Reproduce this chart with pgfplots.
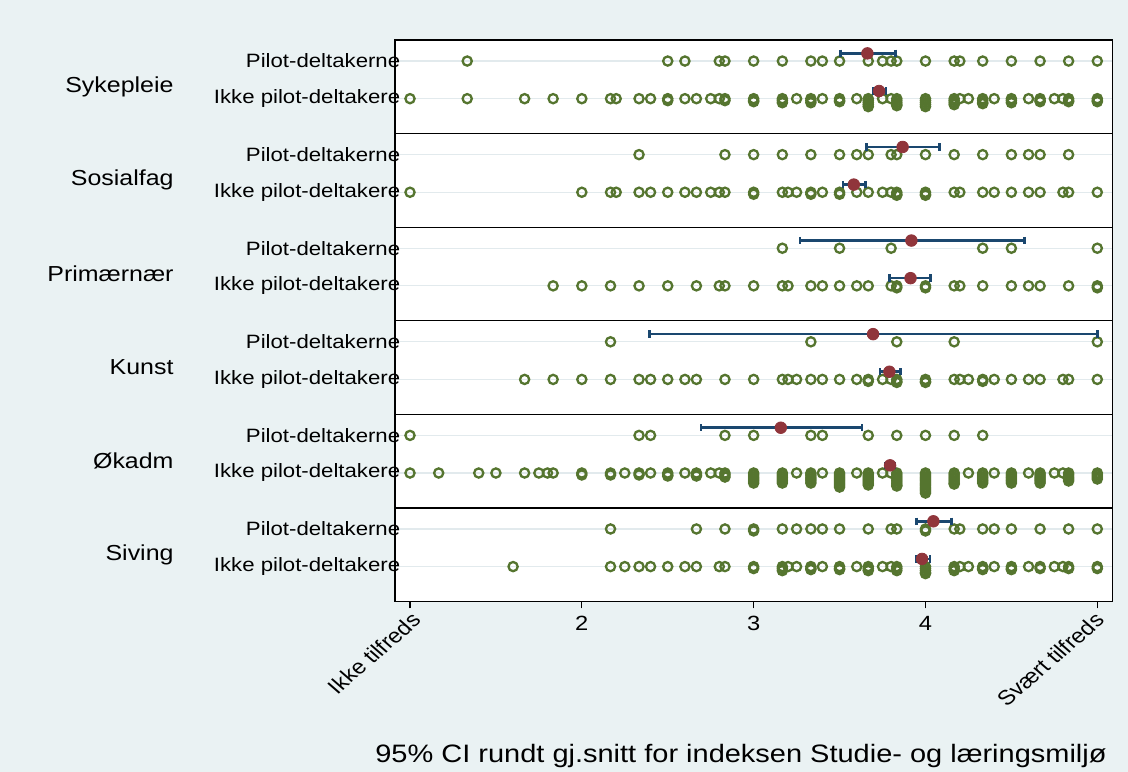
\documentclass[border=0pt]{standalone}
\usepackage{pgfplots}
\pgfplotsset{compat=1.18}
\usepackage{fontspec}
\setmainfont{Liberation Sans}
\definecolor{bgc}{RGB}{234,242,243}
\definecolor{gridc}{RGB}{226,234,237}
\definecolor{ringc}{RGB}{85,117,47}
\definecolor{meanc}{RGB}{144,53,59}
\definecolor{cic}{RGB}{26,71,111}
\newcommand{\rowfont}{\fontsize{9.65bp}{11bp}\selectfont}
\newcommand{\panelfont}{\fontsize{10.85bp}{13bp}\selectfont}
\newcommand{\tickfont}{\fontsize{10.3bp}{12bp}\selectfont}
\begin{document}
\begin{tikzpicture}
\useasboundingbox (0,0) rectangle (564bp,386bp);
\fill[bgc] (0,0) rectangle (564bp,386bp);
\begin{axis}[
  at={(197.5bp,85.25bp)}, anchor=south west,
  scale only axis, width=358.65bp, height=280.75bp,
  xmin=0.9127, xmax=5.0873, ymin=0, ymax=6,
  axis line style={black, line width=0.65bp},
  axis background/.style={fill=white},
  clip=false,
  tick pos=left, tick align=outside,
  major tick length=3.5bp,
  xtick={1,2,3,4,5}, xticklabels={,2,3,4,},
  x tick style={black, line width=0.6bp},
  xticklabel style={font=\tickfont, xscale=1.15, inner sep=0pt, anchor=north, yshift=-3.5bp},
  ytick={0.373,0.775,1.373,1.775,2.373,2.775,3.373,3.775,4.373,4.775,5.373,5.775},
  yticklabels={Ikke pilot-deltakere,Pilot-deltakerne,Ikke pilot-deltakere,Pilot-deltakerne,Ikke pilot-deltakere,Pilot-deltakerne,Ikke pilot-deltakere,Pilot-deltakerne,Ikke pilot-deltakere,Pilot-deltakerne,Ikke pilot-deltakere,Pilot-deltakerne},
  y tick style={draw=none},
  yticklabel style={font=\rowfont, xscale=1.15, anchor=east, inner sep=0pt, xshift=5.5bp},
  ymajorgrids, major grid style={gridc, line width=0.6bp},
  extra y ticks={1,2,3,4,5}, extra y tick labels={},
  extra y tick style={major grid style={black, line width=0.65bp}},
  ring/.style={only marks, mark=o, mark size=2.3bp, mark options={draw=ringc, line width=1.15bp}},
]
% ---------- Sykepleie ----------
\addplot[ring] coordinates {(1.333,5.775)(2.5,5.775)(2.6,5.775)(2.8,5.775)(2.833,5.775)(3,5.775)(3.167,5.775)(3.333,5.775)(3.4,5.775)(3.5,5.775)(3.667,5.775)(3.75,5.775)(3.8,5.775)(3.833,5.775)(4,5.775)(4.167,5.775)(4.2,5.775)(4.333,5.775)(4.5,5.775)(4.667,5.775)(4.833,5.775)(5,5.775)};
\addplot[ring] coordinates {(1,5.373)(1.333,5.373)(1.667,5.373)(1.833,5.373)(2,5.373)(2.167,5.373)(2.2,5.373)(2.333,5.373)(2.4,5.373)(2.5,5.373)(2.6,5.373)(2.667,5.373)(2.75,5.373)(2.8,5.373)(2.833,5.373)(3,5.373)(3.167,5.373)(3.25,5.373)(3.333,5.373)(3.4,5.373)(3.5,5.373)(3.6,5.373)(3.667,5.373)(3.75,5.373)(3.8,5.373)(3.833,5.373)(4,5.373)(4.167,5.373)(4.2,5.373)(4.25,5.373)(4.333,5.373)(4.4,5.373)(4.5,5.373)(4.6,5.373)(4.667,5.373)(4.75,5.373)(4.8,5.373)(4.833,5.373)(5,5.373)};
\addplot[ring] coordinates {(2.5,5.352)(2.833,5.352)(3,5.352)(3,5.341)(3.167,5.352)(3.167,5.330)(3.333,5.352)(3.333,5.330)(3.5,5.352)(3.5,5.341)(3.667,5.352)(3.667,5.330)(3.667,5.309)(3.667,5.288)(3.833,5.352)(3.833,5.330)(3.833,5.309)(3.833,5.298)(4,5.352)(4,5.330)(4,5.309)(4,5.288)(4.167,5.352)(4.167,5.330)(4.167,5.309)(4.333,5.352)(4.333,5.330)(4.333,5.320)(4.5,5.352)(4.5,5.330)(4.667,5.352)(4.667,5.341)(4.833,5.352)(4.833,5.341)(5,5.352)(5,5.341)};
% ---------- Sosialfag ----------
\addplot[ring] coordinates {(2.333,4.775)(2.833,4.775)(3,4.775)(3.167,4.775)(3.333,4.775)(3.5,4.775)(3.6,4.775)(3.667,4.775)(3.8,4.775)(3.833,4.775)(4,4.775)(4.167,4.775)(4.333,4.775)(4.5,4.775)(4.6,4.775)(4.667,4.775)(4.833,4.775)};
\addplot[ring] coordinates {(1,4.373)(2,4.373)(2.167,4.373)(2.2,4.373)(2.333,4.373)(2.4,4.373)(2.5,4.373)(2.6,4.373)(2.667,4.373)(2.75,4.373)(2.8,4.373)(2.833,4.373)(3,4.373)(3.167,4.373)(3.2,4.373)(3.25,4.373)(3.333,4.373)(3.4,4.373)(3.5,4.373)(3.6,4.373)(3.667,4.373)(3.75,4.373)(3.8,4.373)(3.833,4.373)(4,4.373)(4.167,4.373)(4.2,4.373)(4.333,4.373)(4.4,4.373)(4.5,4.373)(4.6,4.373)(4.667,4.373)(4.8,4.373)(4.833,4.373)(5,4.373)};
\addplot[ring] coordinates {(3,4.352)(3.333,4.352)(3.5,4.352)(3.833,4.352)(3.833,4.341)(4,4.352)(4,4.341)};
% ---------- Primaernaer ----------
\addplot[ring] coordinates {(3.167,3.775)(3.5,3.775)(3.8,3.775)(4.333,3.775)(4.5,3.775)(5,3.775)};
\addplot[ring] coordinates {(1.833,3.373)(2,3.373)(2.167,3.373)(2.333,3.373)(2.5,3.373)(2.667,3.373)(2.8,3.373)(2.833,3.373)(3,3.373)(3.167,3.373)(3.2,3.373)(3.333,3.373)(3.4,3.373)(3.5,3.373)(3.6,3.373)(3.667,3.373)(3.8,3.373)(3.833,3.373)(4,3.373)(4.167,3.373)(4.2,3.373)(4.333,3.373)(4.5,3.373)(4.6,3.373)(4.667,3.373)(4.833,3.373)(5,3.373)};
\addplot[ring] coordinates {(3.833,3.352)(4,3.352)(5,3.352)};
% ---------- Kunst ----------
\addplot[ring] coordinates {(2.167,2.775)(3.333,2.775)(3.833,2.775)(4.167,2.775)(5,2.775)};
\addplot[ring] coordinates {(1.667,2.373)(1.833,2.373)(2,2.373)(2.167,2.373)(2.333,2.373)(2.4,2.373)(2.5,2.373)(2.6,2.373)(2.667,2.373)(2.833,2.373)(3,2.373)(3.167,2.373)(3.2,2.373)(3.25,2.373)(3.333,2.373)(3.4,2.373)(3.5,2.373)(3.6,2.373)(3.667,2.373)(3.75,2.373)(3.8,2.373)(3.833,2.373)(4,2.373)(4.167,2.373)(4.2,2.373)(4.25,2.373)(4.333,2.373)(4.4,2.373)(4.5,2.373)(4.6,2.373)(4.667,2.373)(4.8,2.373)(4.833,2.373)(5,2.373)};
\addplot[ring] coordinates {(3.667,2.352)(3.833,2.352)(3.833,2.341)(4,2.352)(4,2.341)(4.333,2.352)};
% ---------- Okadm ----------
\addplot[ring] coordinates {(1,1.775)(2.333,1.775)(2.4,1.775)(2.833,1.775)(3,1.775)(3.333,1.775)(3.4,1.775)(3.667,1.775)(3.833,1.775)(4,1.775)(4.167,1.775)(4.333,1.775)};
\addplot[ring] coordinates {(1,1.373)(1.167,1.373)(1.4,1.373)(1.5,1.373)(1.667,1.373)(1.75,1.373)(1.8,1.373)(1.833,1.373)(2,1.373)(2.167,1.373)(2.25,1.373)(2.333,1.373)(2.4,1.373)(2.5,1.373)(2.6,1.373)(2.667,1.373)(2.75,1.373)(2.8,1.373)(2.833,1.373)(3,1.373)(3.167,1.373)(3.25,1.373)(3.333,1.373)(3.4,1.373)(3.5,1.373)(3.6,1.373)(3.667,1.373)(3.75,1.373)(3.8,1.373)(3.833,1.373)(4,1.373)(4.167,1.373)(4.25,1.373)(4.333,1.373)(4.4,1.373)(4.5,1.373)(4.6,1.373)(4.667,1.373)(4.75,1.373)(4.8,1.373)(4.833,1.373)(5,1.373)};
\addplot[ring] coordinates {(2,1.352)(2.167,1.352)(2.333,1.352)(2.5,1.352)(2.5,1.341)(2.667,1.352)(2.667,1.341)(2.833,1.352)(2.833,1.330)
(3,1.352)(3,1.330)(3,1.309)(3,1.288)(3,1.266)
(3.167,1.352)(3.167,1.330)(3.167,1.309)(3.167,1.288)(3.167,1.266)
(3.333,1.352)(3.333,1.330)(3.333,1.309)(3.333,1.288)(3.333,1.266)
(3.5,1.352)(3.5,1.330)(3.5,1.309)(3.5,1.288)(3.5,1.266)(3.5,1.245)(3.5,1.223)
(3.667,1.352)(3.667,1.330)(3.667,1.309)(3.667,1.288)(3.667,1.266)(3.667,1.245)
(3.833,1.352)(3.833,1.330)(3.833,1.309)(3.833,1.288)(3.833,1.266)(3.833,1.245)(3.833,1.234)
(4,1.352)(4,1.330)(4,1.309)(4,1.288)(4,1.266)(4,1.245)(4,1.223)(4,1.202)(4,1.181)(4,1.159)
(4.167,1.352)(4.167,1.330)(4.167,1.309)(4.167,1.288)(4.167,1.266)(4.167,1.255)
(4.333,1.352)(4.333,1.330)(4.333,1.309)(4.333,1.288)(4.333,1.266)
(4.5,1.352)(4.5,1.330)(4.5,1.309)(4.5,1.288)(4.5,1.266)
(4.667,1.352)(4.667,1.330)(4.667,1.309)(4.667,1.288)(4.667,1.266)
(4.833,1.352)(4.833,1.330)(4.833,1.309)(4.833,1.288)
(5,1.352)(5,1.330)(5,1.309)};
% ---------- Siving ----------
\addplot[ring] coordinates {(2.167,0.775)(2.667,0.775)(2.833,0.775)(3,0.775)(3.167,0.775)(3.25,0.775)(3.333,0.775)(3.4,0.775)(3.5,0.775)(3.667,0.775)(3.8,0.775)(3.833,0.775)(4,0.775)(4.167,0.775)(4.2,0.775)(4.333,0.775)(4.4,0.775)(4.5,0.775)(4.667,0.775)(4.833,0.775)(5,0.775)};
\addplot[ring] coordinates {(3,0.754)(4,0.754)};
\addplot[ring] coordinates {(1.6,0.373)(2.167,0.373)(2.25,0.373)(2.333,0.373)(2.4,0.373)(2.5,0.373)(2.6,0.373)(2.667,0.373)(2.8,0.373)(2.833,0.373)(3,0.373)(3.167,0.373)(3.2,0.373)(3.25,0.373)(3.333,0.373)(3.4,0.373)(3.5,0.373)(3.6,0.373)(3.667,0.373)(3.75,0.373)(3.8,0.373)(3.833,0.373)(4,0.373)(4.167,0.373)(4.2,0.373)(4.25,0.373)(4.333,0.373)(4.4,0.373)(4.5,0.373)(4.6,0.373)(4.667,0.373)(4.75,0.373)(4.8,0.373)(4.833,0.373)(5,0.373)};
\addplot[ring] coordinates {(3,0.352)(3.167,0.352)(3.167,0.330)(3.333,0.352)(3.333,0.341)(3.5,0.352)(3.5,0.341)(3.667,0.352)(3.667,0.330)(3.833,0.352)(3.833,0.330)(4,0.352)(4,0.330)(4,0.309)(4,0.298)(4.167,0.352)(4.167,0.330)(4.333,0.352)(4.333,0.341)(4.5,0.352)(4.5,0.341)(4.667,0.352)(4.833,0.352)(5,0.352)};
% ---------- 95% CI ----------
\addplot[cic, line width=1.3bp, mark=|, mark size=1.85bp, mark options={line width=1.3bp}, unbounded coords=jump] coordinates {
(3.507,5.857)(3.825,5.857)(nan,nan)
(3.697,5.455)(3.770,5.455)(nan,nan)
(3.655,4.857)(4.080,4.857)(nan,nan)
(3.520,4.455)(3.652,4.455)(nan,nan)
(3.270,3.857)(4.577,3.857)(nan,nan)
(3.790,3.455)(4.030,3.455)(nan,nan)
(2.393,2.857)(5.000,2.857)(nan,nan)
(3.735,2.455)(3.855,2.455)(nan,nan)
(2.694,1.857)(3.630,1.857)(nan,nan)
(3.765,1.455)(3.823,1.455)(nan,nan)
(3.946,0.857)(4.153,0.857)(nan,nan)
(3.946,0.455)(4.027,0.455)};
% ---------- means ----------
\addplot[only marks, mark=*, mark size=2.9bp, mark options={draw=meanc, fill=meanc}] coordinates {
(3.662,5.857)(3.730,5.455)(3.867,4.857)(3.583,4.455)(3.918,3.857)(3.913,3.455)(3.695,2.857)(3.790,2.455)(3.158,1.857)(3.794,1.455)(4.046,0.857)(3.980,0.455)};
% ---------- labels ----------
\node[xshift=-110.5bp, xscale=1.15, anchor=east, inner sep=0pt, font=\panelfont] at (rel axis cs:0,0.91667) {Sykepleie};
\node[xshift=-110.5bp, xscale=1.15, anchor=east, inner sep=0pt, font=\panelfont] at (rel axis cs:0,0.75) {Sosialfag};
\node[xshift=-110.5bp, xscale=1.15, anchor=east, inner sep=0pt, font=\panelfont] at (rel axis cs:0,0.58333) {Primærnær};
\node[xshift=-110.5bp, xscale=1.15, anchor=east, inner sep=0pt, font=\panelfont] at (rel axis cs:0,0.41667) {Kunst};
\node[xshift=-110.5bp, xscale=1.15, anchor=east, inner sep=0pt, font=\panelfont] at (rel axis cs:0,0.25) {Økadm};
\node[xshift=-110.5bp, xscale=1.15, anchor=east, inner sep=0pt, font=\panelfont] at (rel axis cs:0,0.08333) {Siving};
\node[yshift=-4.5bp, xscale=1.15, rotate=45, anchor=north east, inner sep=0pt, font=\tickfont] at (axis cs:1,0) {Ikke tilfreds};
\node[xshift=-2bp, yshift=-4.5bp, xscale=1.15, rotate=45, anchor=north east, inner sep=0pt, font=\tickfont] at (axis cs:5,0) {Svært tilfreds};
\end{axis}
\node[xscale=1.15, anchor=base, inner sep=0pt, font=\fontsize{12.6bp}{15bp}\selectfont] at (370.5bp,5bp) {95\% CI rundt gj.snitt for indeksen Studie- og læringsmiljø};
\end{tikzpicture}
\end{document}
